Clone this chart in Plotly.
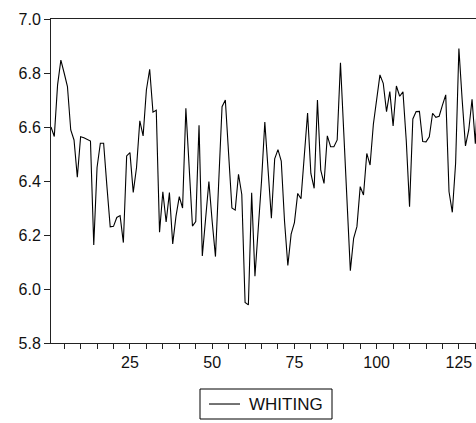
import plotly.graph_objects as go

obs = list(range(1, 132))
whiting = [
    6.600, 6.565, 6.756, 6.848, 6.800, 6.750, 6.589, 6.552, 6.414, 6.564,
    6.560, 6.555, 6.548, 6.163, 6.450, 6.540, 6.540, 6.380, 6.230, 6.232,
    6.265, 6.272, 6.172, 6.493, 6.505, 6.358, 6.450, 6.623, 6.567, 6.737,
    6.814, 6.655, 6.662, 6.210, 6.360, 6.248, 6.357, 6.167, 6.270, 6.342,
    6.300, 6.669, 6.450, 6.233, 6.250, 6.606, 6.122, 6.260, 6.398, 6.250,
    6.120, 6.400, 6.675, 6.700, 6.500, 6.300, 6.292, 6.425, 6.350, 5.950,
    5.941, 6.356, 6.047, 6.210, 6.400, 6.618, 6.420, 6.262, 6.482, 6.516,
    6.474, 6.250, 6.087, 6.203, 6.246, 6.354, 6.334, 6.500, 6.652, 6.428,
    6.373, 6.700, 6.440, 6.391, 6.567, 6.527, 6.527, 6.552, 6.838, 6.580,
    6.320, 6.068, 6.188, 6.231, 6.379, 6.348, 6.502, 6.459, 6.610, 6.700,
    6.793, 6.762, 6.657, 6.731, 6.604, 6.752, 6.714, 6.730, 6.550, 6.305,
    6.630, 6.657, 6.658, 6.546, 6.545, 6.564, 6.651, 6.636, 6.640, 6.681,
    6.719, 6.360, 6.284, 6.466, 6.891, 6.700, 6.530, 6.589, 6.703, 6.538,
    6.800,
]
series_name = "WHITING"
y_ticks = [5.8, 6.0, 6.2, 6.4, 6.6, 6.8, 7.0]
x_ticks = [25, 50, 75, 100, 125]

fig = go.Figure()
fig.add_trace(go.Scatter(
    x=obs, y=whiting, mode="lines", name=series_name,
    line=dict(color="black", width=1.1), showlegend=False,
))

font = dict(family="Liberation Sans, Arial, sans-serif", size=16, color="#111")
legend_font = dict(family="Liberation Sans, Arial, sans-serif", size=17, color="#111")

# Manual legend (box, line sample, label) in paper coordinates below the plot
fig.add_shape(type="rect", xref="paper", yref="paper",
              x0=0.3506, x1=0.6612, y0=-0.2346, y1=-0.142,
              line=dict(color="black", width=1), fillcolor="white")
fig.add_shape(type="line", xref="paper", yref="paper",
              x0=0.3718, x1=0.4447, y0=-0.1883, y1=-0.1883,
              line=dict(color="black", width=1.1))
fig.add_annotation(xref="paper", yref="paper", x=0.4612, y=-0.1883,
                   xanchor="left", yanchor="middle", text=series_name,
                   showarrow=False, font=legend_font)

fig.update_layout(
    width=476, height=423,
    margin=dict(l=51, r=0, t=19, b=80),
    paper_bgcolor="white", plot_bgcolor="white",
    font=font,
    showlegend=False,
    xaxis=dict(
        range=[1, 130.2], showgrid=False, zeroline=False,
        showline=True, linecolor="#222", linewidth=1, mirror=True,
        ticks="outside", ticklen=5, tickcolor="#222",
        tickmode="array", tickvals=x_ticks,
        ticktext=[str(v) for v in x_ticks],
        minor=dict(ticks="outside", ticklen=5, tickcolor="#222", dtick=5, tick0=0, showgrid=False),
        tickfont=font,
    ),
    yaxis=dict(
        range=[5.8, 7.0], showgrid=False, zeroline=False,
        showline=True, linecolor="#222", linewidth=1,
        ticks="outside", ticklen=6, tickcolor="#222",
        tickvals=y_ticks, ticktext=[f"{v:.1f}" for v in y_ticks],
        tickfont=font,
    ),
)

fig.write_html(
    "out.html",
    config={"displayModeBar": False},
    post_script="document.body.style.margin='0';document.body.style.overflow='hidden';",
)
